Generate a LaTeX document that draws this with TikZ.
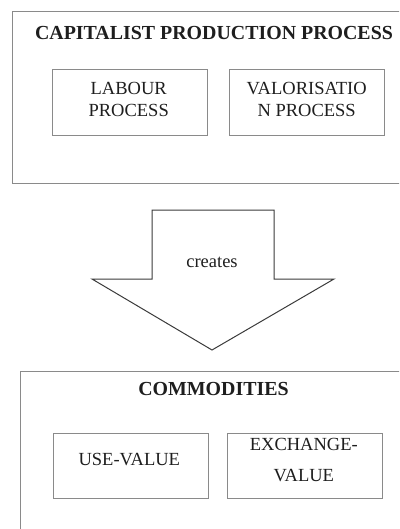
\documentclass[tikz,border=0pt]{standalone}
\usepackage{fontspec}
\setmainfont{Liberation Serif}
\definecolor{boxgray}{HTML}{8A8A8A}
\definecolor{arrowgray}{HTML}{3A3A3A}
\definecolor{txt}{HTML}{1E1E1E}
\begin{document}
\begin{tikzpicture}[x=1pt,y=-1pt,
  frame/.style={draw=boxgray,line width=1pt},
  innerbox/.style={draw=boxgray,line width=1pt,rectangle,inner sep=0pt},
  bodytext/.style={text=txt,inner sep=0pt,align=center,font=\fontsize{18.5}{21.7}\selectfont},
  titletext/.style={text=txt,inner sep=0pt,font=\fontsize{19.9}{23}\selectfont\bfseries},
]
\useasboundingbox (0,0) rectangle (399,529);
\clip (0,0) rectangle (399,529);
% outer frames
\draw[frame] (12,12) rectangle (410,184);
\draw[frame] (20,371) rectangle (410,545);
% titles
\node[titletext,anchor=base] (captitle) at (214,40) {CAPITALIST PRODUCTION PROCESS};
\node[titletext,anchor=base] (comtitle) at (213.5,395.7) {COMMODITIES};
% inner boxes
\node[innerbox,minimum width=155pt,minimum height=66pt] (labourbox) at (129.9,102.2) {};
\node[innerbox,minimum width=155pt,minimum height=66pt] (valbox) at (306.7,103) {};
\node[innerbox,minimum width=155pt,minimum height=65pt] (usebox) at (130.5,465.5) {};
\node[innerbox,minimum width=155pt,minimum height=65pt] (exbox) at (304.5,465.5) {};
% texts
\node[bodytext,anchor=north] (labourtxt) at (128.7,82.3) {LABOUR\\PROCESS};
\node[bodytext,anchor=north] (valtxt) at (306.7,82.3) {VALORISATIO\\N PROCESS};
\node[bodytext,anchor=base] (usetxt) at (129.3,465) {USE-VALUE};
\node[bodytext,anchor=north] (extxt) at (303.8,437.7) {EXCHANGE-\\[10pt]VALUE};
% block arrow
\draw[draw=arrowgray,line width=1pt,line join=miter]
  (152,210) -- (274,210) -- (274,279) -- (334,279) -- (212,350)
  -- (92,279) -- (152,279) -- cycle;
\node[bodytext,anchor=base] (creates) at (212,267) {creates};
\end{tikzpicture}
\end{document}
